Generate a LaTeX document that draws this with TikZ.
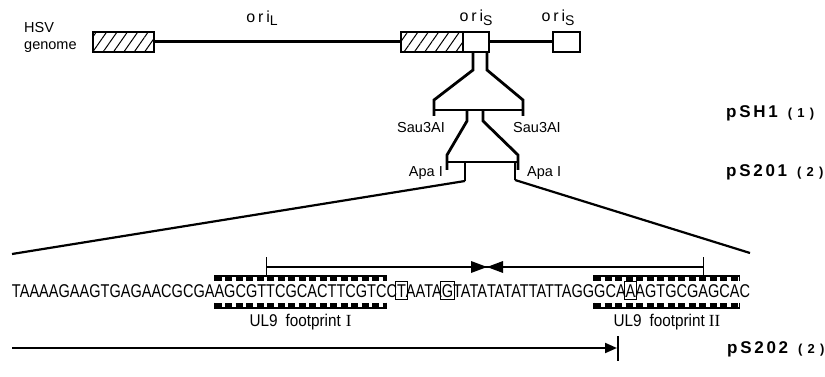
\documentclass[tikz,border=0pt]{standalone}
\usepackage{fontspec}
\setmainfont{Liberation Sans}
\newfontfamily\seqfont[FakeStretch=0.786]{Liberation Sans}
\newfontfamily\labfont[FakeStretch=0.9]{Liberation Sans}
\newfontfamily\romfont{Liberation Serif}
\newfontfamily\orifont[LetterSpace=18]{Liberation Sans}
\newfontfamily\plasfont[LetterSpace=16]{Liberation Sans}
\newfontfamily\plasnumfont[LetterSpace=40]{Liberation Sans}
\usetikzlibrary{patterns.meta,arrows.meta,calc}
\tikzset{
  hbox/.style={draw,line width=1.5pt,inner sep=0pt,outer sep=0pt,minimum height=20pt,
    pattern={Lines[angle=55,distance=8.5pt,line width=1pt]}},
  wbox/.style={draw,line width=1.5pt,inner sep=0pt,outer sep=0pt,minimum height=20pt,fill=white},
  genome/.style={line width=3pt},
  funnel/.style={line width=2.8pt,line join=miter},
  zoomline/.style={line width=2.2pt},
  seq/.style={inner sep=0pt,outer sep=0pt,anchor=base west,font=\seqfont\fontsize{18.5}{18.5}\selectfont},
  enz/.style={inner sep=0pt,font=\fontsize{14.5}{15}\selectfont},
  plas/.style={inner sep=0pt,anchor=west,font=\plasfont\bfseries\fontsize{17}{17}\selectfont},
  orilab/.style={inner sep=0pt,font=\orifont\fontsize{16}{16}\selectfont},
  solidbar/.style={line width=2pt},
  teeth/.style={line width=4pt,dash pattern=on 7pt off 3.5pt},
  endtick/.style={line width=1.4pt},
  basebox/.style={line width=1.1pt},
  irline/.style={line width=1.4pt},
  fplab/.style={inner sep=0pt,font=\labfont\fontsize{17}{17}\selectfont},
}
\newcommand{\plasnum}[1]{\hspace{10pt}{\plasnumfont\bfseries\fontsize{13}{13}\selectfont(#1)}}
\begin{document}
\begin{tikzpicture}[x=1pt,y=-1pt]
\fill[white] (0,0) rectangle (825,377);
\useasboundingbox (0,0) rectangle (825,377);

% ---- HSV genome ----
\node[inner sep=0pt,anchor=west,font=\fontsize{14.5}{15}\selectfont] (hsv) at (24,28) {HSV};
\node[inner sep=0pt,anchor=west,font=\fontsize{14.5}{15}\selectfont] (gen) at (24,47) {genome};
\node[hbox,minimum width=61pt] (L1) at (123.5,42) {};
\node[hbox,minimum width=62pt] (L2) at (432,42) {};
\node[wbox,minimum width=26pt] (S1) at (476,42) {};
\node[wbox,minimum width=27pt] (S2) at (566.5,42) {};
\draw[genome] (L1.east) -- (L2.west);
\draw[genome] (S1.east) -- (S2.west);

\node[orilab] (oriL) at (262,18) {ori\raisebox{-3.5pt}{\fontsize{14}{14}\selectfont L}};
\node[orilab] (oriS1) at (476,18) {ori\raisebox{-3.5pt}{\fontsize{14}{14}\selectfont S}};
\node[orilab] (oriS2) at (558,18) {ori\raisebox{-3.5pt}{\fontsize{14}{14}\selectfont S}};

% ---- subclones ----
\draw[funnel] (473,52) -- (473,70) -- (434,100) -- (434,116);
\draw[funnel] (487,52) -- (487,70) -- (523,100) -- (523,116);
\draw[funnel] (434,110) -- (523,110);
\node[enz] (sau1) at (421,128) {Sau3AI};
\node[enz,anchor=west] (sau2) at (513,128) {Sau3AI};

\draw[funnel] (467,110) -- (467,121) -- (447,155) -- (447,170);
\draw[funnel] (483,110) -- (483,121) -- (518,155) -- (518,170);
\draw[funnel] (447,162) -- (518,162);
\node[enz,anchor=east] (apa1) at (443,173) {Apa I};
\node[enz,anchor=west] (apa2) at (527,173) {Apa I};
\coordinate (apaL) at (465,181);
\coordinate (apaR) at (515,180);
\draw[funnel] (465,162) -- (apaL);
\draw[funnel] (515,162) -- (apaR);

\node[plas] (pSH1) at (726,113) {pSH1\plasnum{1}};
\node[plas] (pS201) at (726,172) {pS201\plasnum{2}};

% ---- sequence ----
\node[seq] (s1) at (12,297) {TAAAAGAAGTGAGAACGCGA};
\node[seq] (s2) at (s1.base east) {AGCGT};
\node[seq] (s3) at (s2.base east) {T};
\node[seq] (s4) at (s3.base east) {CGCACTTCGTC};
\node[seq] (s4b) at (s4.base east) {C};
\node[seq] (b1) at (s4b.base east) {T};
\node[seq] (s5) at (b1.base east) {AATA};
\node[seq] (b2) at (s5.base east) {G};
\node[seq] (s6) at (b2.base east) {TATA};
\node[seq] (s7) at (s6.base east) {TATATTATTAGG};
\node[seq] (s8) at (s7.base east) {GCA};
\node[seq] (b3) at (s8.base east) {A};
\node[seq] (s9) at (b3.base east) {AGTGCG};
\node[seq] (s10) at (s9.base east) {A};
\node[seq] (s11) at (s10.base east) {GCA};
\node[seq] (s12) at (s11.base east) {C};

\coordinate (zl) at (12,254);
\coordinate (zr) at (750,253);
\draw[zoomline] (apaL) -- (zl);
\draw[zoomline] (apaR) -- (zr);

% boxed bases
\foreach \b in {b1,b2,b3}{
  \draw[basebox] ([xshift=-1.3pt,yshift=-2.5pt]\b.base west) rectangle ([xshift=1.3pt,yshift=3pt]\b.north east);
}

% inverted repeat
\coordinate (irL) at (s3.base west |- 0,267);
\coordinate (irR) at (s10.base |- 0,267);
\coordinate (bt) at (s6.base east |- 0,267);
\draw[irline] (irL) -- (irR);
\draw[irline] (s3.base west |- 0,257) -- (s3.base west |- 0,275);
\draw[irline] (s10.base |- 0,257) -- (s10.base |- 0,275);
\fill ($(bt)+(-16,-6)$) -- (bt) -- ($(bt)+(-16,6)$) -- cycle;
\fill ($(bt)+(16,-6)$) -- (bt) -- ($(bt)+(16,6)$) -- cycle;

% footprint bars
\foreach \l/\r in {s2/s4,s8/s11}{
  \draw[solidbar] (\l.west |- 0,276) -- (\r.east |- 0,276);
  \draw[teeth] (\l.west |- 0,279) -- (\r.east |- 0,279);
  \draw[endtick] (\l.west |- 0,275) -- (\l.west |- 0,281);
  \draw[endtick] (\r.east |- 0,275) -- (\r.east |- 0,281);
  \draw[solidbar] (\l.west |- 0,307.5) -- (\r.east |- 0,307.5);
  \draw[teeth] (\l.west |- 0,304.5) -- (\r.east |- 0,304.5);
  \draw[endtick] (\l.west |- 0,302.5) -- (\l.west |- 0,308.5);
  \draw[endtick] (\r.east |- 0,302.5) -- (\r.east |- 0,308.5);
}
\coordinate (fc1) at ($(s2.west)!0.5!(s4.east)$);
\coordinate (fc2) at ($(s8.west)!0.5!(s11.east)$);
\node[fplab] (fp1) at (fc1 |- 0,322) {UL9\hspace{8pt}footprint\hspace{5pt}{\romfont I}};
\node[fplab] (fp2) at (fc2 |- 0,322) {UL9\hspace{8pt}footprint\hspace{4pt}{\romfont II}};

% pS202
\coordinate (a0) at (12,348);
\coordinate (a1) at (618,348);
\draw[line width=2pt,-{Triangle[length=12pt,width=10pt]}] (a0) -- ([xshift=-1pt]a1);
\draw[line width=1.4pt] (618,336) -- (618,361);
\node[plas] (pS202) at (727,349) {pS202\plasnum{2}};
\end{tikzpicture}
\end{document}
